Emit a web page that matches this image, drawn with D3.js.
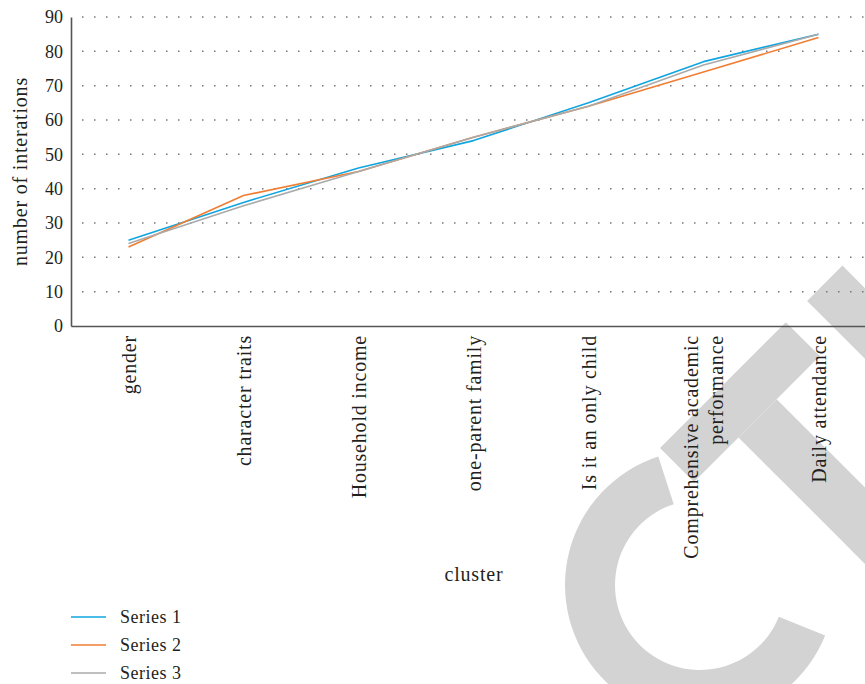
<!DOCTYPE html>
<html>
<head>
<meta charset="utf-8">
<script src="https://cdn.jsdelivr.net/npm/d3@7"></script>
<style>
  body { margin: 0; background: #fff; }
  text { font-family: "Liberation Serif", "DejaVu Serif", serif; fill: #231f20; }
</style>
</head>
<body>
<svg id="chart" width="865" height="684"></svg>
<script>
// Données
const categories = ["gender", "character traits", "Household income", "one-parent family",
                    "Is it an only child", "Comprehensive academic|performance", "Daily attendance"];
const serie1 = [25, 36, 46, 54, 65, 77, 85];
const serie2 = [23, 38, 45, 55, 64, 74, 84];
const serie3 = [24, 35, 45, 55, 64, 76, 85];
const nomsSeries = ["Series 1", "Series 2", "Series 3"];
const couleurs = ["#0fa5e0", "#f07d32", "#aaaaaa"];
const yTicks = [0, 10, 20, 30, 40, 50, 60, 70, 80, 90];

const svg = d3.select("#chart");
const largeur = 865, hauteur = 684;
const marge = { gauche: 71, haut: 17, bas: 326 };

svg.append("rect").attr("width", largeur).attr("height", hauteur).attr("fill", "#fff");

// Filigrane (morceaux des lettres "C", "T", "E" en gris clair)
const gFili = svg.append("g").attr("fill", "#d3d3d3");
gFili.append("path")
    .attr("transform", "translate(700,585)")
    .attr("d", d3.arc()({ innerRadius: 85, outerRadius: 135,
                          startAngle: 112 * Math.PI / 180, endAngle: 342 * Math.PI / 180 }));
const gT = gFili.append("g").attr("transform", "translate(660,448) rotate(-45)");
gT.append("rect").attr("x", 0).attr("y", 0).attr("width", 178).attr("height", 48);
gT.append("rect").attr("x", 63).attr("y", 48).attr("width", 54).attr("height", 300);
gT.append("rect").attr("x", 208).attr("y", 0).attr("width", 50).attr("height", 300);

// Échelles
const x = d3.scaleBand().domain(categories).range([marge.gauche, 876]).padding(0);
const y = d3.scaleLinear().domain([0, 90]).range([marge.bas, marge.haut]);
const cx = c => x(c) + x.bandwidth() / 2;

// Grille pointillée
svg.append("g").selectAll("line").data(yTicks.slice(1)).join("line")
    .attr("x1", 82).attr("x2", largeur)
    .attr("y1", d => y(d)).attr("y2", d => y(d))
    .attr("stroke", "#777").attr("stroke-width", 1.5)
    .attr("stroke-dasharray", "1.5,10.5");

// Axe Y
const axeY = svg.append("g").attr("transform", `translate(${marge.gauche},0)`)
    .call(d3.axisLeft(y).tickValues(yTicks).tickSize(0).tickPadding(8));
axeY.select(".domain").attr("stroke", "#555").attr("stroke-width", 1.6);
axeY.selectAll("text").attr("font-size", 18).attr("fill", "#231f20")
    .style("font-family", "Liberation Serif, serif");

// Axe X
const axeX = svg.append("g").attr("transform", `translate(0,${marge.bas})`)
    .call(d3.axisBottom(x).tickSize(0).tickFormat(""));
axeX.select(".domain").attr("stroke", "#555").attr("stroke-width", 1.6);

// Étiquettes X verticales (sur une ou deux lignes)
const gLab = svg.append("g");
categories.forEach(c => {
    const lignes = c.split("|");
    lignes.forEach((l, i) => {
        const decal = (i - (lignes.length - 1) / 2) * 25;
        gLab.append("text")
            .attr("transform", `translate(${cx(c) + decal},335) rotate(-90)`)
            .attr("text-anchor", "end").attr("dy", "0.35em")
            .attr("font-size", 20).attr("letter-spacing", 0.8).text(l);
    });
});

// Titres des axes
svg.append("text").attr("transform", `translate(20,${(marge.haut + marge.bas) / 2}) rotate(-90)`)
    .attr("text-anchor", "middle").attr("dy", "0.35em").attr("font-size", 20)
    .attr("letter-spacing", 0.8).text("number of interations");
svg.append("text").attr("x", 474).attr("y", 574).attr("text-anchor", "middle")
    .attr("dy", "0.35em").attr("font-size", 20).attr("letter-spacing", 0.8).text("cluster");

// Courbes
const ligne = d3.line().x((d, i) => cx(categories[i])).y(d => y(d));
[serie1, serie2, serie3].forEach((s, k) => {
    svg.append("path").datum(s).attr("d", ligne)
        .attr("fill", "none").attr("stroke", couleurs[k]).attr("stroke-width", 1.6)
        .attr("stroke-linejoin", "round");
});

// Légende
const leg = svg.append("g").selectAll("g").data(nomsSeries).join("g")
    .attr("transform", (d, i) => `translate(71,${617 + i * 28})`);
leg.append("line").attr("x1", 0).attr("x2", 35).attr("stroke", (d, i) => couleurs[i]).attr("stroke-width", 1.4);
leg.append("text").attr("x", 49).attr("dy", "0.35em").attr("font-size", 18)
    .attr("letter-spacing", 0.5).text(d => d);
</script>
</body>
</html>
